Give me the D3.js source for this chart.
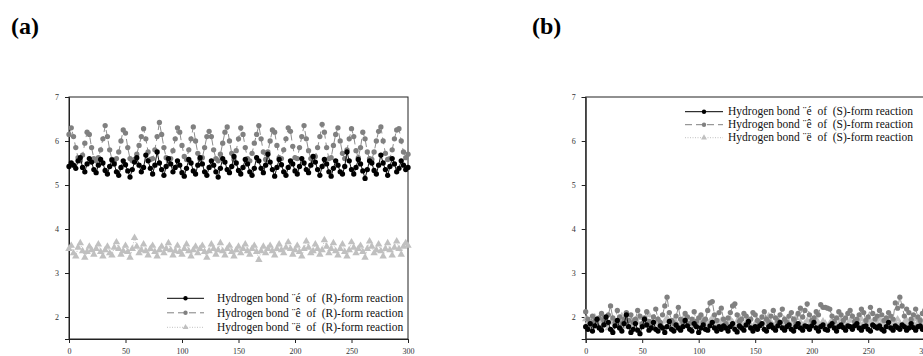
<!DOCTYPE html>
<html>
<head>
<meta charset="utf-8">
<script src="https://cdn.jsdelivr.net/npm/d3@7"></script>
<style>
  body { margin: 0; background: #fff; }
  svg { display: block; font-family: "Liberation Serif", "Times New Roman", serif; }
  .tick text { fill: #333; font-size: 8px; }
  .legend text { font-size: 11.5px; white-space: pre; }
</style>
</head>
<body>
<svg width="923" height="356"></svg>
<script>
// time axis: one sample every 2 units, 0..300
let timeStep = 2;
let xTicks = [0, 50, 100, 150, 200, 250, 300];
let yTicks = [2, 3, 4, 5, 6, 7];

let legendR = ['Hydrogen bond \u00a8\u00e9  of  (R)-form reaction',
               'Hydrogen bond \u00a8\u00ea  of  (R)-form reaction',
               'Hydrogen bond \u00a8\u00eb  of  (R)-form reaction'];
let legendS = ['Hydrogen bond \u00a8\u00e9  of  (S)-form reaction',
               'Hydrogen bond \u00a8\u00ea  of  (S)-form reaction',
               'Hydrogen bond \u00a8\u00eb  of  (S)-form reaction'];

// (a) (R)-form
let rAlpha = [
  5.42,5.50,5.45,5.38,5.55,5.62,5.40,5.30,5.48,5.60,
  5.52,5.35,5.28,5.45,5.58,5.50,5.33,5.25,5.42,5.57,
  5.48,5.30,5.22,5.40,5.55,5.46,5.32,5.18,5.35,5.52,
  5.62,5.45,5.30,5.40,5.68,5.55,5.38,5.25,5.45,5.75,
  5.50,5.35,5.22,5.42,5.60,5.48,5.30,5.40,5.55,5.45,
  5.28,5.20,5.38,5.58,5.50,5.32,5.25,5.45,5.62,5.48,
  5.30,5.22,5.40,5.55,5.45,5.30,5.18,5.38,5.60,5.52,
  5.35,5.28,5.42,5.65,5.50,5.33,5.25,5.40,5.58,5.48,
  5.30,5.22,5.38,5.62,5.55,5.38,5.28,5.45,5.70,5.52,
  5.35,5.20,5.40,5.58,5.46,5.30,5.22,5.40,5.55,5.48,
  5.32,5.25,5.42,5.60,5.50,5.35,5.28,5.45,5.65,5.52,
  5.35,5.22,5.42,5.58,5.48,5.30,5.20,5.38,5.55,5.45,
  5.30,5.25,5.42,5.75,5.55,5.35,5.25,5.40,5.58,5.48,
  5.32,5.15,5.35,5.55,5.50,5.33,5.25,5.45,5.68,5.50,
  5.35,5.22,5.42,5.60,5.48,5.30,5.38,5.55,5.45,5.35,
  5.40];
let rBeta = [
  6.15,6.30,6.10,5.85,5.62,5.55,5.68,5.95,6.20,6.15,
  5.85,5.60,5.55,5.62,5.80,6.05,6.35,6.10,5.80,5.58,
  5.52,5.60,5.75,6.00,6.25,6.18,5.85,5.60,5.55,5.58,
  5.70,5.90,6.10,6.28,6.05,5.75,5.58,5.60,5.80,6.10,
  6.42,6.15,5.85,5.62,5.55,5.60,5.78,6.05,6.30,6.20,
  5.90,5.65,5.58,5.80,6.05,6.32,6.00,5.72,5.58,5.62,
  5.85,6.10,6.22,6.10,5.80,5.60,5.55,5.70,5.95,6.20,
  6.32,6.00,5.72,5.58,5.78,6.05,6.30,6.15,5.85,5.60,
  5.55,5.72,5.95,6.15,6.35,6.05,5.75,5.58,5.75,6.00,
  6.25,6.20,5.90,5.62,5.60,5.80,6.05,6.30,6.22,5.88,
  5.62,5.60,5.85,6.10,6.35,6.05,5.78,5.60,5.55,5.65,
  5.85,6.10,6.38,6.20,5.85,5.60,5.62,5.90,6.15,6.30,
  6.00,5.72,5.60,5.80,6.05,6.28,6.10,5.78,5.62,5.85,
  6.20,6.05,5.75,5.60,5.58,5.75,6.00,6.22,6.32,6.00,
  5.72,5.58,5.60,5.80,6.05,6.25,6.28,6.00,5.75,5.62,
  5.70];
let rGamma = [
  3.55,3.62,3.45,3.38,3.58,3.68,3.50,3.35,3.48,3.60,
  3.52,3.42,3.55,3.65,3.48,3.38,3.52,3.60,3.45,3.40,
  3.58,3.70,3.55,3.42,3.50,3.62,3.48,3.35,3.55,3.80,
  3.60,3.45,3.52,3.65,3.50,3.40,3.55,3.62,3.48,3.38,
  3.52,3.60,3.45,3.55,3.68,3.52,3.40,3.50,3.62,3.48,
  3.42,3.55,3.65,3.50,3.38,3.52,3.60,3.45,3.55,3.62,
  3.48,3.35,3.50,3.65,3.55,3.42,3.52,3.68,3.50,3.40,
  3.55,3.62,3.48,3.38,3.52,3.60,3.45,3.55,3.65,3.50,
  3.42,3.55,3.62,3.48,3.30,3.50,3.60,3.45,3.55,3.62,
  3.50,3.40,3.55,3.65,3.52,3.45,3.58,3.70,3.55,3.42,
  3.52,3.62,3.48,3.38,3.55,3.72,3.58,3.45,3.50,3.65,
  3.55,3.42,3.52,3.75,3.60,3.45,3.55,3.68,3.50,3.40,
  3.55,3.65,3.48,3.38,3.52,3.70,3.58,3.45,3.55,3.62,
  3.48,3.35,3.55,3.72,3.60,3.45,3.52,3.65,3.50,3.38,
  3.55,3.68,3.52,3.40,3.58,3.72,3.55,3.42,3.60,3.68,
  3.62];

// (b) (S)-form
let sAlpha = [
  1.78,1.72,1.85,1.68,1.80,1.95,1.75,1.70,1.82,2.00,
  1.88,1.72,1.65,1.80,1.92,1.75,1.68,1.85,2.05,1.78,
  1.65,1.72,1.85,1.70,1.62,1.78,1.95,1.82,1.70,1.75,
  1.88,1.72,1.68,1.80,1.75,1.65,1.78,1.90,1.72,1.68,
  1.82,1.75,1.70,1.78,1.92,1.80,1.72,1.68,1.85,1.78,
  1.65,1.75,1.82,1.72,1.70,1.80,1.88,1.75,1.68,1.78,
  1.72,1.80,1.75,1.68,1.78,1.85,1.72,1.66,1.80,1.75,
  1.70,1.82,1.90,1.75,1.68,1.78,1.72,1.80,1.85,1.72,
  1.68,1.78,1.82,1.75,1.70,1.80,1.88,1.75,1.70,1.78,
  1.82,1.72,1.68,1.78,1.85,1.75,1.70,1.80,1.78,1.72,
  1.80,1.88,1.75,1.68,1.78,1.82,1.72,1.70,1.80,1.85,
  1.75,1.68,1.78,1.82,1.76,1.70,1.80,1.78,1.72,1.80,
  1.85,1.75,1.70,1.78,1.80,1.72,1.68,1.82,1.78,1.75,
  1.80,1.72,1.68,1.78,1.88,1.75,1.70,1.80,1.76,1.72,
  1.82,1.78,1.70,1.75,1.85,1.76,1.70,1.78,1.80,1.72,
  1.76];
let sBeta = [
  2.12,1.95,1.85,2.02,1.90,1.80,1.98,2.08,1.92,1.85,
  2.05,2.25,1.98,1.88,2.15,2.00,1.85,1.95,2.10,1.92,
  2.05,1.88,1.95,2.15,2.02,1.85,1.98,2.12,1.90,1.82,
  2.00,2.18,1.95,1.88,2.05,2.25,2.45,2.10,1.92,1.85,
  2.02,2.22,1.95,1.88,2.08,2.00,1.85,1.95,2.12,1.90,
  1.98,2.05,1.88,1.95,2.15,2.32,2.35,2.05,1.92,2.10,
  2.20,1.95,1.85,1.98,2.10,2.25,2.30,2.05,1.90,1.95,
  2.08,2.02,1.88,1.95,2.10,2.05,1.92,1.85,2.00,2.12,
  1.95,1.88,2.02,2.15,1.98,1.90,2.05,2.18,1.95,1.88,
  2.02,2.10,1.95,1.85,2.08,2.20,2.00,2.15,2.30,2.05,
  1.92,1.98,2.12,2.05,2.28,2.22,2.22,2.20,2.18,2.02,
  1.90,1.98,2.12,2.05,1.92,1.98,2.08,2.15,2.02,1.90,
  1.95,2.05,2.18,2.10,1.92,2.00,2.22,2.08,1.95,2.02,
  2.15,2.05,1.92,1.98,2.10,2.02,1.95,2.32,2.20,2.45,
  2.25,2.02,2.18,2.10,1.95,2.05,2.18,2.00,1.92,2.08,
  2.15];
let sGamma = [
  1.95,1.88,1.80,1.92,2.00,1.85,1.78,1.90,1.98,1.82,
  1.75,1.88,1.95,1.85,1.80,1.92,2.02,1.88,1.78,1.85,
  1.95,1.82,1.76,1.88,1.98,1.85,1.80,1.92,2.05,1.88,
  1.80,1.85,1.95,1.82,1.78,1.90,1.98,1.85,1.80,1.92,
  1.88,1.78,1.85,1.95,2.02,1.88,1.80,1.85,1.92,1.82,
  1.78,1.88,1.95,1.85,1.80,1.90,1.98,1.85,1.78,1.88,
  1.92,1.82,1.78,1.85,1.95,1.88,1.80,1.90,2.00,1.85,
  1.80,1.88,1.95,1.82,1.75,1.85,1.92,1.88,1.80,1.85,
  1.95,2.02,1.88,1.80,1.85,1.92,1.85,1.78,1.88,1.95,
  1.85,1.80,1.90,1.98,2.05,1.88,1.80,1.85,1.92,1.82,
  1.78,1.88,1.95,1.85,1.80,1.90,1.85,1.78,1.85,1.92,
  1.88,1.80,1.85,1.95,1.88,1.78,1.85,1.92,2.00,1.85,
  1.80,1.88,1.95,1.85,1.78,1.85,1.90,1.82,1.78,1.88,
  1.95,1.88,1.80,1.85,1.92,1.85,1.78,1.88,1.95,1.85,
  1.80,1.88,1.92,1.82,1.78,1.85,1.95,1.88,1.82,1.88,
  1.92];

let styles = [
  { color: '#000', dash: null, marker: 'circle' },
  { color: '#808080', dash: '7,4', marker: 'circle' },
  { color: '#c0c0c0', dash: '1,1.5', marker: 'triangle' }
];

let svg = d3.select('svg');
let plotW = 339, plotH = 242;

function markerPath(st, size) {
  return d3.symbol()
    .type(st.marker === 'circle' ? d3.symbolCircle : d3.symbolTriangle)
    .size(size)();
}

function drawPanel(left, top, label, labelX, series, names, legend) {
  let g = svg.append('g').attr('transform', `translate(${left},${top})`);

  let x = d3.scaleLinear().domain([0, 300]).range([0, plotW]);
  let y = d3.scaleLinear().domain([1.5, 7]).range([plotH, 0]);

  // box
  g.append('rect')
    .attr('width', plotW).attr('height', plotH)
    .attr('fill', 'none').attr('stroke', '#222').attr('stroke-width', 1);

  let xAxis = g.append('g')
    .attr('transform', `translate(0,${plotH})`)
    .call(d3.axisBottom(x).tickValues(xTicks).tickFormat(d3.format('d')).tickSize(4).tickPadding(5));
  let yAxis = g.append('g')
    .call(d3.axisLeft(y).tickValues(yTicks).tickFormat(d3.format('d')).tickSize(4).tickPadding(6));
  [xAxis, yAxis].forEach(a => {
    a.select('.domain').attr('stroke', '#222');
    a.selectAll('.tick line').attr('stroke', '#222');
    a.attr('font-family', null).attr('font-size', null);
  });

  let line = d3.line()
    .x((d, i) => x(i * timeStep))
    .y(d => y(d));

  let order = [2, 1, 0];
  order.forEach(k => {
    let st = styles[k];
    let data = series[k];
    g.append('path')
      .datum(data)
      .attr('fill', 'none')
      .attr('stroke', st.color)
      .attr('stroke-width', 0.9)
      .attr('stroke-dasharray', st.dash)
      .attr('d', line);
    let mk = markerPath(st, st.marker === 'circle' ? 22 : 24);
    g.append('g').selectAll('path')
      .data(data)
      .enter().append('path')
      .attr('transform', (d, i) => `translate(${x(i * timeStep)},${y(d)})`)
      .attr('d', mk)
      .attr('fill', st.color);
  });

  // legend
  let lg = svg.append('g').attr('class', 'legend')
    .attr('transform', `translate(${legend.x},${legend.y})`);
  names.forEach((name, k) => {
    let st = styles[k];
    let row = lg.append('g').attr('transform', `translate(0,${k * legend.step})`);
    row.append('line')
      .attr('x1', 0).attr('x2', legend.len)
      .attr('stroke', st.color).attr('stroke-width', 1)
      .attr('stroke-dasharray', st.dash);
    row.append('path')
      .attr('transform', `translate(${legend.len / 2},0)`)
      .attr('d', markerPath(st, 15))
      .attr('fill', st.color);
    row.append('text')
      .attr('x', legend.textX).attr('dy', '0.33em')
      .attr('fill', '#111')
      .text(name);
  });

  svg.append('text')
    .attr('x', labelX).attr('y', 34)
    .attr('font-size', 24).attr('font-weight', 'bold')
    .text(label);
}

drawPanel(69, 97, '(a)', 11, [rAlpha, rBeta, rGamma], legendR,
  { x: 167, y: 298.3, step: 14.5, len: 37, textX: 50 });
drawPanel(585.7, 97, '(b)', 532, [sAlpha, sBeta, sGamma], legendS,
  { x: 685, y: 111.7, step: 13, len: 38, textX: 43 });
</script>
</body>
</html>
